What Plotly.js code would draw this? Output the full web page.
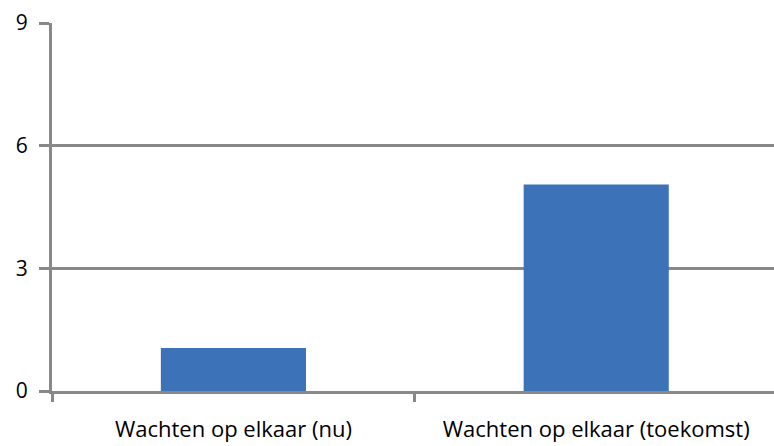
<!DOCTYPE html>
<html><head><meta charset="utf-8">
<script src="https://cdn.plot.ly/plotly-3.0.1.min.js"></script>
<style>html,body{margin:0;padding:0;background:#fff;}#chart{width:774px;height:446px;}</style>
</head><body><div id="chart"></div>
<script>
const categories = ["Wachten op elkaar (nu)", "Wachten op elkaar (toekomst)"];
const values = [1.05, 5.05];
const yTicks = [0, 3, 6, 9];

const trace = {
  type: 'bar',
  x: categories,
  y: values,
  width: 0.4,
  marker: {color: '#3b72b8', line: {color: '#6f9bd3', width: 0}},
  hoverinfo: 'skip'
};
const layout = {
  width: 774, height: 446,
  margin: {l: 52, r: 0, t: 23, b: 54.5, pad: 0},
  paper_bgcolor: '#fff', plot_bgcolor: '#fff',
  showlegend: false,
  font: {family: 'Open Sans, Liberation Sans, Arial, sans-serif', size: 22, color: '#000'},
  xaxis: {
    type: 'category', range: [-0.5, 1.49],
    showline: true, linecolor: '#888', linewidth: 3,
    ticks: 'outside', tickson: 'boundaries', ticklen: 8, tickwidth: 3, tickcolor: '#888',
    showgrid: false, zeroline: false, ticklabelstandoff: 17,
    tickfont: {size: 22}
  },
  yaxis: {
    range: [0, 9], tickvals: yTicks, ticktext: yTicks.map(String),
    showline: true, linecolor: '#888', linewidth: 3,
    ticks: 'outside', ticklen: 10, tickwidth: 3, tickcolor: '#888',
    showgrid: true, gridcolor: '#888', gridwidth: 3, zeroline: false,
    ticklabelstandoff: 7, tickfont: {size: 21}
  }
};
Plotly.newPlot('chart', [trace], layout, {staticPlot: true, displayModeBar: false});
</script></body></html>
